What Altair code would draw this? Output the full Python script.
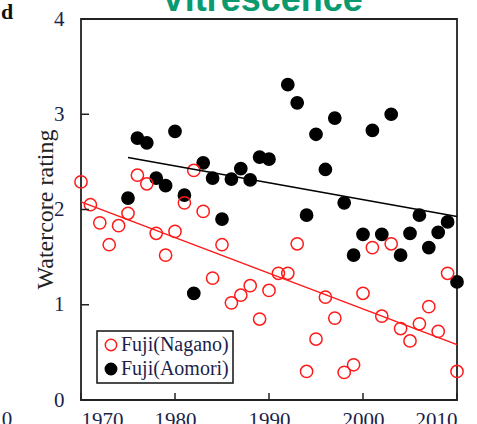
import altair as alt
import pandas as pd

# Watercore rating per harvest year for two Fuji origins
years_nagano = list(range(1970, 2011))
nagano = [2.29, 2.05, 1.86, 1.63, 1.83, 1.96, 2.36, 2.27, 1.75, 1.52,
          1.77, 2.07, 2.41, 1.98, 1.28, 1.63, 1.02, 1.10, 1.20, 0.85,
          1.15, 1.33, 1.33, 1.64, 0.30, 0.64, 1.08, 0.86, 0.29, 0.37,
          1.12, 1.60, 0.88, 1.64, 0.75, 0.62, 0.80, 0.98, 0.72, 1.33, 0.30]

years_aomori = list(range(1975, 1991)) + list(range(1992, 2011))
aomori = [2.12, 2.75, 2.70, 2.33, 2.25, 2.82, 2.15, 1.12, 2.49, 2.33,
          1.90, 2.32, 2.43, 2.31, 2.55, 2.53,
          3.31, 3.12, 1.94, 2.79, 2.42, 2.96, 2.07, 1.52, 1.74, 2.83,
          1.74, 3.00, 1.52, 1.75, 1.94, 1.60, 1.76, 1.87, 1.24]

series_names = ["Fuji(Nagano)", "Fuji(Aomori)"]
series_colors = ["#ff1a1a", "#000000"]
x_ticks = [1970, 1980, 1990, 2000, 2010]
y_ticks = [0, 1, 2, 3, 4]
title_text = ["Vitrescence"]
panel_letter = ["d"]
neighbour_zero = ["0"]

SERIF = "Times New Roman, Liberation Serif, serif"
LABEL_COLOR = "#1c1f4c"

df = pd.concat([
    pd.DataFrame({"year": years_aomori, "value": aomori, "series": series_names[1]}),
    pd.DataFrame({"year": years_nagano, "value": nagano, "series": series_names[0]}),
], ignore_index=True)

x_scale = alt.Scale(domain=[1970, 2010], nice=False, zero=False)
y_scale = alt.Scale(domain=[0, 4], nice=False, zero=True)

x_enc = alt.X("year:Q", scale=x_scale, axis=alt.Axis(
    values=x_ticks, format="d", title=None, ticks=False, tickSize=0,
    domain=False, grid=False, labelFont=SERIF, labelFontSize=21,
    labelColor=LABEL_COLOR, labelPadding=9))
y_enc = alt.Y("value:Q", scale=y_scale, axis=alt.Axis(
    values=y_ticks, format="d", title="Watercore rating", ticks=False,
    tickSize=0, domain=False, grid=False, labelFont=SERIF, labelFontSize=21,
    labelColor=LABEL_COLOR, labelPadding=17,
    titleFont=SERIF, titleFontSize=24, titleFontWeight="normal",
    titleColor="#222222", titleAngle=270, titleX=-36, titleY=190,
    titleAlign="center", titleBaseline="middle"))

stroke_scale = alt.Scale(domain=series_names, range=series_colors)
fill_scale = alt.Scale(domain=series_names, range=["transparent", "#000000"])

legend = alt.Legend(title=None, orient="none", legendX=16, legendY=312,
                    labelFont=SERIF, labelFontSize=20, labelColor=LABEL_COLOR,
                    labelOffset=0, padding=4, rowPadding=4,
                    symbolStrokeWidth=1.5, symbolSize=130,
                    strokeColor="#111111")


def trend_line(name, color):
    # least-squares trend of one series over its own year range
    return alt.Chart(df).transform_filter(
        alt.datum.series == name
    ).transform_regression("year", "value").mark_line(
        strokeWidth=1.5, color=color
    ).encode(x="year:Q", y="value:Q")


trend_nagano = trend_line(series_names[0], series_colors[0])
trend_aomori = trend_line(series_names[1], series_colors[1])

points = alt.Chart(df).mark_point(shape="circle", size=150, strokeWidth=1.5,
                                  opacity=1).encode(
    x=x_enc, y=y_enc,
    stroke=alt.Stroke("series:N", scale=stroke_scale, legend=legend),
    fill=alt.Fill("series:N", scale=fill_scale, legend=legend),
)

# inward tick marks on the bottom and left axes
x_tick_marks = alt.Chart(pd.DataFrame({"year": x_ticks})).mark_rule(
    color="#222222", strokeWidth=1.5
).encode(x="year:Q", y=alt.value(381), y2=alt.value(374))

y_tick_marks = alt.Chart(pd.DataFrame({"value": y_ticks})).mark_rule(
    color="#222222", strokeWidth=1.5
).encode(y="value:Q", x=alt.value(0), x2=alt.value(8))

title = alt.Chart(pd.DataFrame({"t": title_text})).mark_text(
    font="Liberation Sans", fontSize=36, fontWeight="bold", color="#0a9a6e",
    align="center", baseline="alphabetic"
).encode(text="t:N", x=alt.value(181), y=alt.value(-8))

letter = alt.Chart(pd.DataFrame({"t": panel_letter})).mark_text(
    font=SERIF, fontSize=22, fontWeight="bold", color="#111111",
    align="left", baseline="alphabetic"
).encode(text="t:N", x=alt.value(-80), y=alt.value(0))

stray = alt.Chart(pd.DataFrame({"t": neighbour_zero})).mark_text(
    font=SERIF, fontSize=21, color=LABEL_COLOR,
    align="center", baseline="alphabetic"
).encode(text="t:N", x=alt.value(-74), y=alt.value(407))

chart = alt.layer(
    points, trend_nagano, trend_aomori, x_tick_marks, y_tick_marks,
    title, letter, stray
).properties(
    width=376, height=381,
    autosize=alt.AutoSizeParams(type="none"),
    padding={"left": 81, "top": 19, "right": 20, "bottom": 24},
).configure_view(
    stroke="#222222", strokeWidth=1.8
).configure_legend(
    strokeWidth=1.5
)

chart.save("out.html", embed_options={"renderer": "svg", "actions": False})
